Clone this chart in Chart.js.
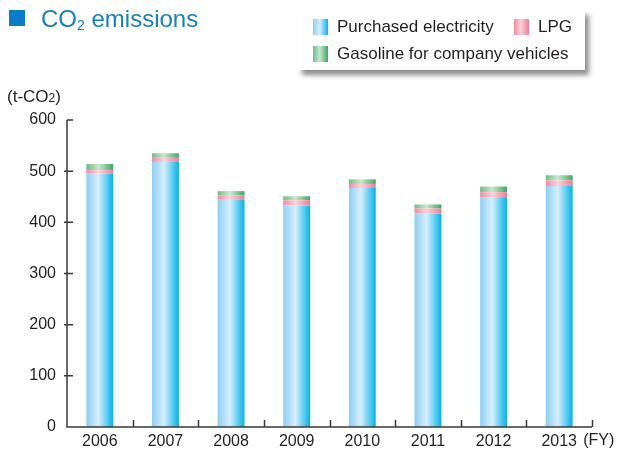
<!DOCTYPE html>
<html>
<head>
<meta charset="utf-8">
<script src="https://cdn.jsdelivr.net/npm/chart.js@4/dist/chart.umd.min.js"></script>
<style>
  html, body { margin: 0; padding: 0; background: #fff; }
  body { width: 618px; height: 450px; position: relative; overflow: hidden;
         font-family: "Liberation Sans", Arial, sans-serif; color: #231f20; }
  #wrap { position: absolute; left: 0; top: 0; width: 618px; height: 450px; }
  #title { position: absolute; left: 9px; top: 5px; font-size: 24px; color: #1281c8; white-space: nowrap; }
  #title .sq { display: inline-block; width: 16px; height: 16px; background: #0a7dc8; margin-right: 16px; vertical-align: 1px; }
  #title sub { font-size: 14px; vertical-align: -3px; }
  #unit { position: absolute; left: 7px; top: 87px; font-size: 17px; white-space: nowrap; }
  #unit small { font-size: 12px; }
  #legend { position: absolute; left: 298px; top: 10px; width: 287px; height: 60px; background: #fff;
            box-shadow: 4px 5px 5px rgba(0,0,0,0.45); font-size: 17px; }
  .item { position: absolute; white-space: nowrap; line-height: 18px; }
  .sw { display: inline-block; width: 15px; height: 16px; vertical-align: -3px; margin-right: 9px; }
</style>
</head>
<body>
<div id="wrap"><canvas id="chart" width="618" height="450"></canvas></div>
<div id="title"><span class="sq"></span>CO<sub>2</sub> emissions</div>
<div id="unit">(t-CO<small>2</small>)</div>
<div id="legend"></div>
<script>
// values (t-CO2)
const years = ['2006', '2007', '2008', '2009', '2010', '2011', '2012', '2013'];
const electricity = [495, 518, 444, 433, 467, 417, 449, 471];
const lpg = [7, 8, 9, 10, 8, 10, 10, 11];
const gasoline = [12, 9, 8, 8, 9, 8, 11, 10];
const yTicks = [0, 100, 200, 300, 400, 500, 600];

const seriesNames = ['Purchased electricity', 'LPG', 'Gasoline for company vehicles'];
// left / middle / right colours of the shaded bars
const shades = [
    ['#8dcff4', '#d6eefb', '#00b4ec'],
    ['#f28aa1', '#fbd2da', '#ef7b96'],
    ['#6cbf88', '#cbe7cf', '#37aa62']
];
const barPct = 0.41;

function shade(ctx, s) {
    const chart = ctx.chart;
    const xs = chart.scales.x;
    if (!chart.chartArea || !xs) return s[2];
    const c = xs.getPixelForValue(ctx.dataIndex);
    const w = xs.width / years.length * barPct;
    const g = chart.ctx.createLinearGradient(c - w / 2, 0, c + w / 2, 0);
    g.addColorStop(0, s[0]);
    g.addColorStop(0.45, s[1]);
    g.addColorStop(1, s[2]);
    return g;
}

function swatch(s) {
    return 'linear-gradient(to right,' + s[0] + ',' + s[1] + ' 45%,' + s[2] + ')';
}

// legend box
const legend = document.getElementById('legend');
const legendPos = [[15, 8], [216, 8], [15, 35]];
seriesNames.forEach((n, i) => {
    const d = document.createElement('div');
    d.className = 'item';
    d.style.left = legendPos[i][0] + 'px';
    d.style.top = legendPos[i][1] + 'px';
    d.innerHTML = '<span class="sw" style="background:' + swatch(shades[i]) + '"></span>' + n;
    legend.appendChild(d);
});

const axisColor = '#3d3735';
const axisPlugin = {
    id: 'axes',
    afterDatasetsDraw(chart) {
        const c = chart.ctx, xs = chart.scales.x, ys = chart.scales.y;
        const x0 = xs.left, x1 = xs.right, y0 = ys.getPixelForValue(0), yTop = ys.getPixelForValue(600);
        c.save();
        c.strokeStyle = axisColor;
        c.lineWidth = 1.5;
        c.beginPath();
        c.moveTo(x0, yTop);
        c.lineTo(x0, y0);
        c.lineTo(x1, y0);
        for (const v of yTicks) {
            if (v === 0) continue;
            const y = ys.getPixelForValue(v);
            c.moveTo(v === 600 ? x0 : x0 - 3, y);
            c.lineTo(x0 + 6, y);
        }
        const step = (x1 - x0) / years.length;
        for (let i = 1; i <= years.length; i++) {
            const x = Math.round(x0 + i * step) + 0.5;
            c.moveTo(x, y0);
            c.lineTo(x, y0 - 7);
        }
        c.stroke();
        c.fillStyle = '#231f20';
        c.font = '16px "Liberation Sans", Arial, sans-serif';
        c.textBaseline = 'middle';
        c.fillText('(FY)', xs.getPixelForValue(years.length - 1) + 24, 441);
        c.restore();
    }
};

new Chart(document.getElementById('chart'), {
    type: 'bar',
    data: {
        labels: years,
        datasets: [electricity, lpg, gasoline].map((d, i) => ({
            label: seriesNames[i],
            data: d,
            backgroundColor: ctx => shade(ctx, shades[i]),
            borderWidth: 0,
            barPercentage: 1,
            categoryPercentage: barPct
        }))
    },
    options: {
        responsive: false,
        animation: false,
        layout: { padding: { left: 0, right: 26, top: 120, bottom: 0 } },
        plugins: { legend: { display: false }, tooltip: { enabled: false } },
        scales: {
            x: {
                stacked: true,
                grid: { display: false, drawTicks: false },
                border: { display: false },
                ticks: { color: '#231f20', padding: 5, font: { family: '"Liberation Sans", Arial, sans-serif', size: 16 } },
                afterFit: s => { s.height = 23; }
            },
            y: {
                stacked: true,
                min: 0,
                max: 600,
                afterBuildTicks: s => { s.ticks = yTicks.map(v => ({ value: v })); },
                grid: { display: false, drawTicks: false },
                border: { display: false },
                ticks: { color: '#231f20', padding: 11, font: { family: '"Liberation Sans", Arial, sans-serif', size: 16 } },
                afterFit: s => { s.width = 67; }
            }
        }
    },
    plugins: [axisPlugin]
});
</script>
</body>
</html>
